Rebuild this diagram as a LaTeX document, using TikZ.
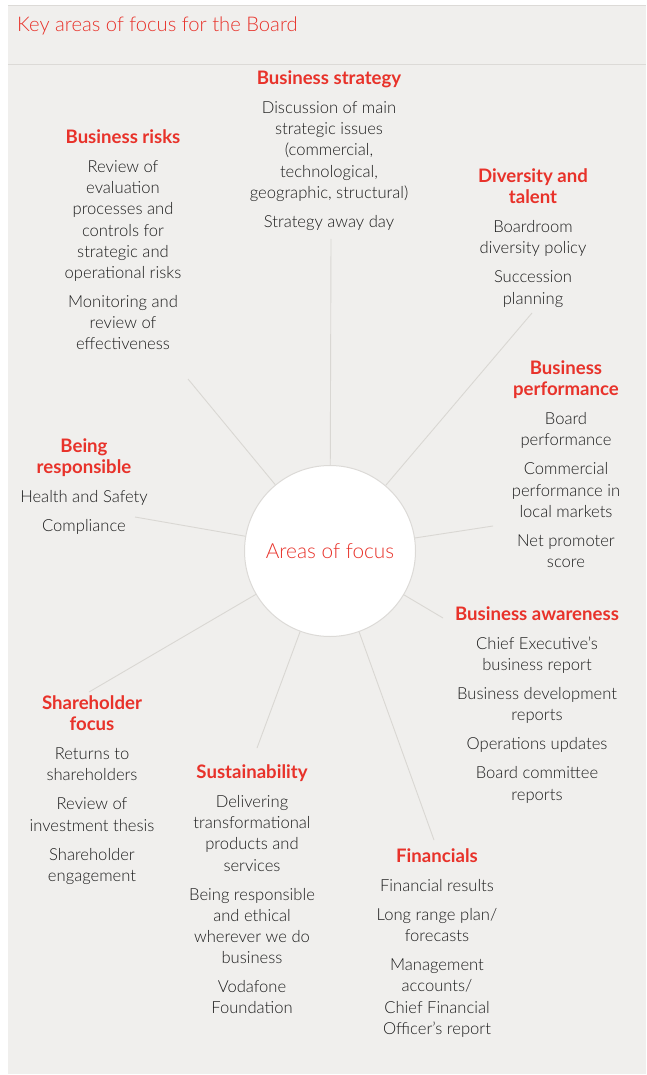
\documentclass[tikz,border=0pt]{standalone}
\usepackage{fontspec}
\setmainfont{Lato}
\newfontfamily\lightfont{Lato Light}
\usepackage{xcolor}
\usetikzlibrary{positioning}

\definecolor{focusred}{HTML}{E8322A}
\definecolor{panelgrey}{HTML}{F0EFED}
\definecolor{ruleline}{HTML}{DCDAD7}
\definecolor{spokegrey}{HTML}{D9D7D3}
\definecolor{textgrey}{HTML}{1C1C1C}

\newcommand{\areahead}[1]{{\normalfont\bfseries\fontsize{18.6}{21.2}\selectfont\color{focusred}#1}}
\newcommand{\itemgap}{\\[7.8pt]}

\begin{document}
\begin{tikzpicture}[x=1pt,y=-1pt,
    area/.style={align=center, anchor=north, inner sep=0pt, text=textgrey,
      font=\lightfont\fontsize{16.6}{21.2}\selectfont},
    spoke/.style={draw=spokegrey, line width=0.9pt}]
  \useasboundingbox (0,0) rectangle (646,1075);
  % page and panel
  \fill[white] (0,0) rectangle (646,1075);
  \fill[panelgrey] (8,6) rectangle (646,1074);
  \draw[ruleline, line width=1pt] (8,6) -- (646,6);
  \draw[ruleline, line width=1pt] (8,65) -- (646,65);
  \node[anchor=base west, inner sep=0pt, text=focusred,
    font=\lightfont\fontsize{20.2}{24}\selectfont] (title) at (17,32) {Key areas of focus for the Board};

  % spoke ends
  \coordinate (s-strategy) at (331,239);
  \coordinate (s-risks) at (188,379);
  \coordinate (s-diversity) at (532,313);
  \coordinate (s-perf) at (493,526);
  \coordinate (s-aware) at (443,618);
  \coordinate (s-fin) at (434,840);
  \coordinate (s-sust) at (257,748);
  \coordinate (s-share) at (89,692);
  \coordinate (s-resp) at (135,517);

  \node[circle, fill=white, draw=ruleline, line width=1pt, minimum size=171pt, inner sep=0pt,
    text=focusred, font=\lightfont\fontsize{20.8}{24}\selectfont] (focus) at (330,551) {Areas of focus};

  \foreach \s in {strategy,risks,diversity,perf,aware,fin,sust,share,resp}
    \draw[spoke] (focus) -- (s-\s);

  % the nine areas, placed by their top edge
  \node[area] (strategy) at (329,70.5) {\areahead{Business strategy}\itemgap
    Discussion of main\\strategic issues\\(commercial,\\technological,\\geographic, structural)\itemgap
    Strategy away day};
  \node[area] (risks) at (123,129.5) {\areahead{Business risks}\itemgap
    Review of\\evaluation\\processes and\\controls for\\strategic and\\operational risks\itemgap
    Monitoring and\\review of\\effectiveness};
  \node[area] (diversity) at (533,168.5) {\areahead{Diversity and}\\\areahead{talent}\itemgap
    Boardroom\\diversity policy\itemgap
    Succession\\planning};
  \node[area] (perf) at (566,360.5) {\areahead{Business}\\\areahead{performance}\itemgap
    Board\\performance\itemgap
    Commercial\\performance in\\local markets\itemgap
    Net promoter\\score};
  \node[area] (resp) at (84,438.5) {\areahead{Being}\\\areahead{responsible}\itemgap
    Health and Safety\itemgap
    Compliance};
  \node[area] (aware) at (537,606.5) {\areahead{Business awareness}\itemgap
    Chief Executive’s\\business report\itemgap
    Business development\\reports\itemgap
    Operations updates\itemgap
    Board committee\\reports};
  \node[area] (share) at (92,695.5) {\areahead{Shareholder}\\\areahead{focus}\itemgap
    Returns to\\shareholders\itemgap
    Review of\\investment thesis\itemgap
    Shareholder\\engagement};
  \node[area] (sust) at (252,764.5) {\areahead{Sustainability}\itemgap
    Delivering\\transformational\\products and\\services\itemgap
    Being responsible\\and ethical\\wherever we do\\business\itemgap
    Vodafone\\Foundation};
  \node[area] (fin) at (437,848.5) {\areahead{Financials}\itemgap
    Financial results\itemgap
    Long range plan/\\forecasts\itemgap
    Management\\accounts/\\Chief Financial\\Officer’s report};
\end{tikzpicture}
\end{document}
